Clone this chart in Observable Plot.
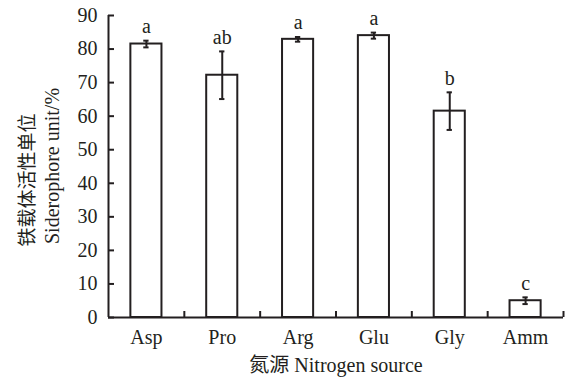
<!DOCTYPE html>
<html>
<head>
<meta charset="utf-8">
<script src="https://cdn.jsdelivr.net/npm/d3@7"></script>
<script src="https://cdn.jsdelivr.net/npm/@observablehq/plot@0.6"></script>
<style>
  html, body { margin: 0; padding: 0; background: #fff; }
  svg { display: block; }
</style>
</head>
<body>
<div id="chart"></div>
<script>
const categories = ["Asp", "Pro", "Arg", "Glu", "Gly", "Amm"];
const means = [81.5, 72.2, 82.9, 84.0, 61.5, 5.0];
const errors = [1.0, 7.1, 0.7, 0.9, 5.6, 1.0];
const letters = ["a", "ab", "a", "a", "b", "c"];
const yTicks = [0, 10, 20, 30, 40, 50, 60, 70, 80, 90];
const yTitleZh = "铁载体活性单位";
const yTitleEn = "Siderophore unit/%";
const xTitle = "氮源 Nitrogen source";

const data = categories.map((c, i) => ({i, c, m: means[i], e: errors[i], l: letters[i]}));
const boundaries = categories.map((c, i) => i + 0.5);
const half = 0.205;
const cap = 0.035;
const ink = "#231f20";
const font = "'Times New Roman', 'Liberation Serif', 'DejaVu Serif', serif, 'Noto Sans CJK SC'";

const plot = Plot.plot({
  width: 568,
  height: 382,
  marginLeft: 108,
  marginRight: 5,
  marginTop: 15,
  marginBottom: 65,
  style: {fontSize: "20px", color: ink, background: "#fff"},
  x: {type: "linear", domain: [-0.5, categories.length - 0.5]},
  y: {domain: [0, 90]},
  marks: [
    Plot.rectY(data, {x1: d => d.i - half, x2: d => d.i + half, y1: 0, y2: "m", fill: "white", stroke: ink, strokeWidth: 2}),
    Plot.ruleX(data, {x: "i", y1: d => d.m - d.e, y2: d => d.m + d.e, stroke: ink, strokeWidth: 2}),
    Plot.ruleY(data, {y: d => d.m + d.e, x1: d => d.i - cap, x2: d => d.i + cap, stroke: ink, strokeWidth: 2}),
    Plot.ruleY(data, {y: d => d.m - d.e, x1: d => d.i - cap, x2: d => d.i + cap, stroke: ink, strokeWidth: 2}),
    Plot.text(data, {x: "i", y: d => d.m + d.e, text: "l", dy: -14, fontSize: 20, fill: ink}),
    Plot.axisY({ticks: yTicks, tickSize: 0, tickPadding: 11, label: null, fontSize: 20}),
    Plot.axisY({ticks: yTicks, tickSize: -6, text: null, label: null, strokeWidth: 2}),
    Plot.axisX({ticks: categories.map((c, i) => i), tickFormat: i => categories[i], tickSize: 0, tickPadding: 12, label: null, fontSize: 20}),
    Plot.axisX({ticks: boundaries, tickSize: -6, text: null, label: null, strokeWidth: 2}),
    Plot.ruleX([-0.5], {y1: 0, y2: 90, stroke: ink, strokeWidth: 2}),
    Plot.ruleY([0], {x1: -0.5, x2: categories.length - 0.5, stroke: ink, strokeWidth: 2})
  ]
});

const svg = d3.select(plot);
svg.append("text")
  .attr("transform", "translate(27,180) rotate(-90)")
  .attr("text-anchor", "middle").attr("dominant-baseline", "central")
  .attr("font-size", 19).attr("fill", ink)
  .text(yTitleZh);
svg.append("text")
  .attr("transform", "translate(52,166) rotate(-90)")
  .attr("text-anchor", "middle").attr("dominant-baseline", "central")
  .attr("font-size", 20).attr("fill", ink)
  .text(yTitleEn);
svg.append("text")
  .attr("x", 336).attr("y", 365)
  .attr("text-anchor", "middle").attr("dominant-baseline", "central")
  .attr("font-size", 20).attr("fill", ink)
  .text(xTitle);
svg.style("font-family", font);
svg.selectAll("g").attr("font-family", null);
svg.selectAll("text").attr("font-family", null).style("font-family", font);

document.getElementById("chart").appendChild(plot);
</script>
</body>
</html>
